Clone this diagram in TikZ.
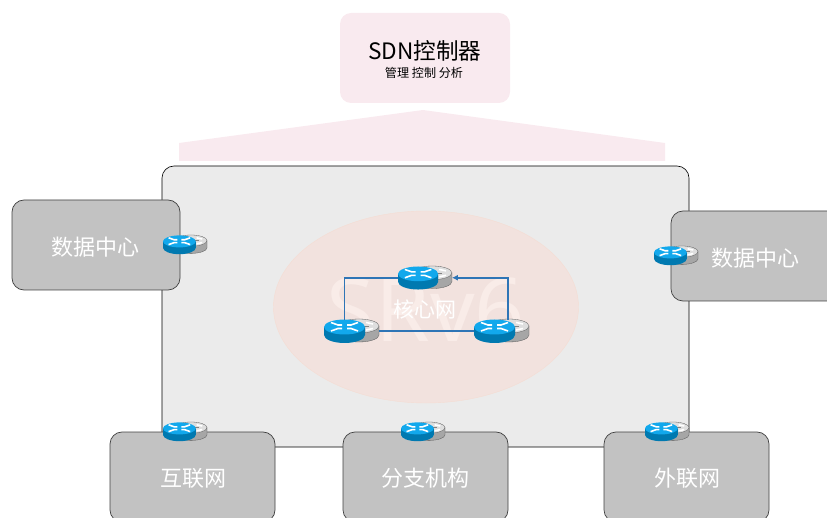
\documentclass[tikz,border=0pt]{standalone}
\usepackage{fontspec}
\setmainfont{Noto Sans CJK SC}
\newfontfamily\wmfont{Noto Sans}
\usetikzlibrary{arrows.meta,shapes.geometric}
\definecolor{pinkbox}{HTML}{F9EAEF}
\definecolor{panel}{HTML}{EBEBEB}
\definecolor{sidegrey}{HTML}{C2C2C2}
\definecolor{corefill}{HTML}{F2E2DE}
\definecolor{coreline}{HTML}{F5DDD3}
\definecolor{wm}{HTML}{F9ECE8}
\definecolor{link}{HTML}{2E75B6}
\definecolor{rtop}{HTML}{12A8EC}
\definecolor{rside}{HTML}{0079B0}
\definecolor{gtop}{HTML}{DEDEDE}
\definecolor{gside}{HTML}{A6A6A6}
\tikzset{
  sidebox/.style={draw=black!75,line width=.7pt,fill=sidegrey,rounded corners=12pt,minimum width=168pt,minimum height=90pt,inner sep=0pt},
  bottombox/.style={sidebox,minimum width=165pt},
  boxtext/.style={text=white,inner sep=0pt,font=\fontsize{22}{26}\selectfont},
  linkline/.style={draw=link,line width=1.5pt},
  pics/router/.style={code={
    % grey rear unit
    \fill[gside,draw=gray!70!black,line width=.3pt] (15,7) -- (15,16) arc[start angle=180,end angle=0,x radius=20,y radius=7] -- (55,7) -- cycle;
    \fill[gtop,draw=gray!70!black,line width=.3pt] (35,7) ellipse[x radius=20,y radius=7];
    \draw[white,line width=1.6pt] (42,3.5) -- (49,5) (42,11) -- (49,9.5);
    \draw[gray,line width=.6pt] (39,7) -- (45,7);
    % blue front unit
    \fill[rside] (0,8) -- (0,16) arc[start angle=180,end angle=0,x radius=20.5,y radius=8] -- (41,8) -- cycle;
    \fill[rtop] (20.5,8) ellipse[x radius=20.5,y radius=7.5];
    \draw[white,line width=1.6pt]
      (7,3.5) -- (14,6) -- (18,6)
      (7,12) -- (14,9.5) -- (18,9.5)
      (34,3.5) -- (27,6) -- (23,6)
      (34,12) -- (27,9.5) -- (23,9.5);
    \coordinate (-w) at (0,12);
    \coordinate (-e) at (55,12);
    \coordinate (-n) at (20.5,1);
    \coordinate (-g) at (34,1);
  }}
}
\begin{document}
\begin{tikzpicture}[x=1pt,y=-1pt]
\useasboundingbox (0,0) rectangle (827,518);
\clip (0,0) rectangle (827,518);
% controller fan
\fill[pinkbox] (179,143) -- (423,110) -- (665,143) -- (665,161) -- (179,161) -- cycle;
\node[fill=pinkbox,rounded corners=11pt,minimum width=170pt,minimum height=90pt,inner sep=0pt] (ctrl) at (425,58) {};
\node[font=\fontsize{22.6}{26}\selectfont,inner sep=0pt] (ctrltitle) at (425,51) {SDN控制器};
\node[font=\fontsize{12.1}{14}\selectfont,inner sep=0pt] (ctrlsub) at (424,73) {管理 控制 分析};
% main panel
\node[draw=black,line width=.6pt,fill=panel,rounded corners=12pt,minimum width=527pt,minimum height=281pt,inner sep=0pt] (panel) at (425.5,306.5) {};
% core
\node[draw=coreline,fill=corefill,ellipse,minimum width=305pt,minimum height=192pt,inner sep=0pt] (core) at (426,307) {};
\node[text=wm,font=\wmfont\fontsize{88}{88}\selectfont,inner sep=0pt] (srv) at (426,310) {SRv6};
% outer boxes
\node[sidebox] (dcl) at (96,245) {};
\node[boxtext] (dcltext) at (95,247.5) {数据中心};
\node[sidebox] (dcr) at (755,256) {};
\node[boxtext] (dcrtext) at (755,258) {数据中心};
\node[bottombox] (inet) at (192.5,477) {};
\node[boxtext] (inettext) at (193,478.5) {互联网};
\node[bottombox] (branch) at (425.5,477) {};
\node[boxtext] (branchtext) at (425.5,478.5) {分支机构};
\node[bottombox] (ext) at (686.5,477) {};
\node[boxtext] (exttext) at (687,478.5) {外联网};
% core routers
\pic (ra) at (398,266) [scale=.98] {router};
\pic (rb) at (324,319) {router};
\pic (rc) at (474,319) {router};
\draw[linkline] (rb-n) |- (ra-w);
\draw[linkline,-{Latex[length=6pt,width=6pt]}] (rc-g) |- (ra-e);
\draw[linkline] (rb-e) -- (rc-w);
\node[text=white,font=\fontsize{21}{24}\selectfont,inner sep=0pt] (corelabel) at (425,309) {核心网};
% edge routers
\pic (e1) at (163,235) [scale=.8] {router};
\pic (e2) at (654,246) [scale=.8] {router};
\pic (e3) at (163,422) [scale=.8] {router};
\pic (e4) at (401,422) [scale=.8] {router};
\pic (e5) at (645,422) [scale=.8] {router};
\end{tikzpicture}
\end{document}
